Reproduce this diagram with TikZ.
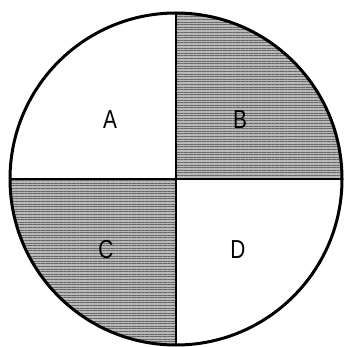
\documentclass[tikz,border=0pt]{standalone}
\usepackage{fontspec}
\setmainfont{Liberation Sans}
\usetikzlibrary{patterns.meta}

\begin{document}
\begin{tikzpicture}[
    x=1pt, y=1pt,
    quarter/.style={
        font=\fontsize{26}{26}\selectfont, % Big plain letters
        xscale=0.8,                        % Narrow them a bit
        inner sep=0pt
    },
    shaded/.style={
        fill=gray!55,                      % Mid grey base
        postaction={pattern={Lines[angle=0,distance=2.6pt,line width=0.9pt]}, pattern color=black!60}
    },
    rim/.style={line width=3pt},
    cut/.style={line width=2.6pt}
]
\useasboundingbox (0,0) rectangle (343,-347);
\coordinate (O) at (176,-179);
\def\rad{166}
% shaded quarters B and C
\fill[shaded] (O) -- ++(0,\rad) arc[start angle=90,end angle=0,radius=\rad] -- cycle;
\fill[shaded] (O) -- ++(0,-\rad) arc[start angle=270,end angle=180,radius=\rad] -- cycle;
% outline and the two cuts
\draw[rim] (O) circle[radius=\rad];
\path (O) ++(0,\rad) coordinate (top) (O) ++(0,-\rad) coordinate (bot)
      (O) ++(-\rad,0) coordinate (lft) (O) ++(\rad,0) coordinate (rgt);
\draw[cut] (top) -- (bot);
\draw[cut] (lft) -- (rgt);
% labels
\node[quarter] (A) at (110,-120) {A};
\node[quarter] (B) at (240,-120) {B};
\node[quarter] (C) at (106,-250) {C};
\node[quarter] (D) at (238,-250) {D};
\end{tikzpicture}
\end{document}
